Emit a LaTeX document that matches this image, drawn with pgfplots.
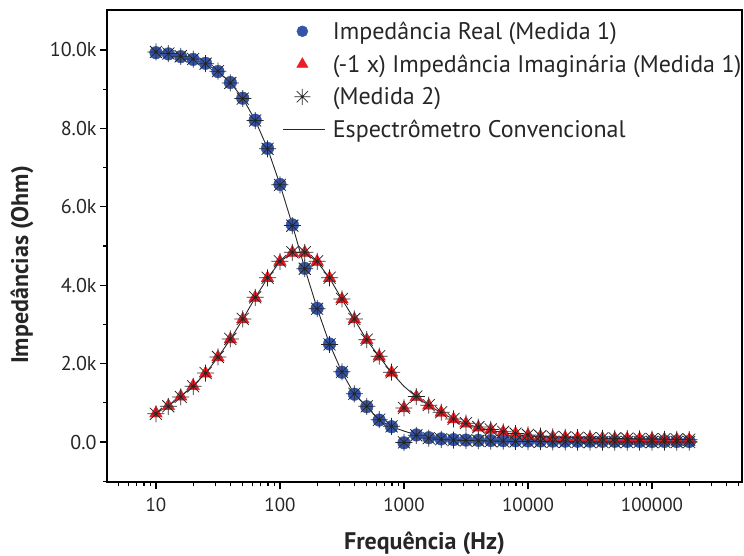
\documentclass[border=0pt]{standalone}
\usepackage{pgfplots}
\pgfplotsset{compat=1.18}
\usepackage{fontspec}
\setmainfont{PT Sans}
\definecolor{cblue}{RGB}{52,84,168}
\definecolor{cred}{RGB}{236,28,36}
\pgfdeclareplotmark{ast8}{%
  \pgfpathmoveto{\pgfpoint{-\pgfplotmarksize}{0pt}}\pgfpathlineto{\pgfpoint{\pgfplotmarksize}{0pt}}%
  \pgfpathmoveto{\pgfpoint{0pt}{-\pgfplotmarksize}}\pgfpathlineto{\pgfpoint{0pt}{\pgfplotmarksize}}%
  \pgfpathmoveto{\pgfpoint{-0.707\pgfplotmarksize}{-0.707\pgfplotmarksize}}\pgfpathlineto{\pgfpoint{0.707\pgfplotmarksize}{0.707\pgfplotmarksize}}%
  \pgfpathmoveto{\pgfpoint{-0.707\pgfplotmarksize}{0.707\pgfplotmarksize}}\pgfpathlineto{\pgfpoint{0.707\pgfplotmarksize}{-0.707\pgfplotmarksize}}%
  \pgfusepathqstroke}
\pgfplotsset{
  legcirc/.style={legend image code/.code={\path[draw=none,fill=none] (0pt,0pt) -- (42pt,0pt); \draw[##1, mark size=5.5pt] plot coordinates {(19pt,0pt)};}},
  legtri/.style={legend image code/.code={\path[draw=none,fill=none] (0pt,0pt) -- (42pt,0pt); \draw[##1, mark size=6.5pt] plot coordinates {(19pt,0pt)};}},
  legast/.style={legend image code/.code={\path[draw=none,fill=none] (0pt,0pt) -- (42pt,0pt); \draw[##1, mark size=8pt] plot coordinates {(19pt,0pt)};}},
  legline/.style={legend image code/.code={\draw[##1] (0pt,0pt) -- (42pt,0pt);}},
}
\begin{document}
\begin{tikzpicture}
\begin{axis}[at={(0,0)}, anchor=south west, scale only axis, width=635pt, height=472pt,
  xmode=log, xmin=4.03, xmax=5.32e5, ymin=-1020, ymax=11020,
  xtick={10,100,1000,10000,100000}, xticklabels={10,100,1000,10000,100000},
  minor xtick={5,6,7,8,9,20,30,40,50,60,70,80,90,200,300,400,500,600,700,800,900,2000,3000,4000,5000,6000,7000,8000,9000,20000,30000,40000,50000,60000,70000,80000,90000,200000,300000,400000,500000},
  ytick={0,2000,4000,6000,8000,10000}, yticklabels={0.0,2.0k,4.0k,6.0k,8.0k,10.0k},
  scaled y ticks=false, scaled x ticks=false,
  minor ytick={-1000,1000,3000,5000,7000,9000},
  tick pos=left, tick align=outside, major tick length=7pt, minor tick length=4pt,
  axis line style={line width=1.4pt},
  every tick/.style={black, line width=1.2pt},
  /pgf/number format/assume math mode=true,
  tick label style={font=\fontsize{19}{22}\selectfont, color=black!85},
  yticklabel style={font=\fontsize{20}{22}\selectfont},
  xticklabel style={yshift=-5pt},
  xlabel={\textbf{Frequência (Hz)}}, ylabel={\textbf{Impedâncias (Ohm)}},
  label style={font=\fontsize{24}{28}\selectfont, color=black!85},
  xlabel style={at={(axis description cs:0.5,-0.129)}, anchor=center},
  ylabel style={at={(axis description cs:-0.134,0.46)}, anchor=center},
  legend style={at={(0.272,0.984)}, anchor=north west, draw=none, fill=none,
    font=\fontsize{24}{28}\selectfont, row sep=9.8pt, text=black!85,
    cells={anchor=west},
    /tikz/every odd column/.append style={column sep=5pt}},
  legend cell align=left,
]
\addplot[only marks, mark=*, mark size=6.3pt, color=cblue, mark options={fill=cblue, draw=cblue}, legcirc]
coordinates {(10,9930) (12.59,9900) (15.85,9830) (19.95,9760) (25.12,9660) (31.62,9450) (39.81,9170) (50.12,8770) (63.10,8210) (79.43,7490) (100,6570) (125.9,5540) (158.5,4430) (199.5,3410) (251.2,2500) (316.2,1780) (398.1,1220) (501.2,900) (631.0,560) (794.3,390) (1000,-20) (1259,180) (1585,110) (1995,80) (2512,60) (3162,50) (3981,42) (5012,38) (6310,34) (7943,30) (10000,28) (12589,26) (15849,24) (19953,22) (25119,20) (31623,20) (39811,18) (50119,18) (63096,16) (79433,16) (100000,15) (125893,15) (158489,14) (199526,14)};
\addlegendentry{Impedância Real (Medida 1)}
\addplot[only marks, mark=triangle*, mark size=7.3pt, color=cred, mark options={fill=cred, draw=cred}, legtri]
coordinates {(10,730) (12.59,920) (15.85,1160) (19.95,1430) (25.12,1750) (31.62,2160) (39.81,2620) (50.12,3130) (63.10,3680) (79.43,4180) (100,4600) (125.9,4830) (158.5,4830) (199.5,4600) (251.2,4180) (316.2,3640) (398.1,3130) (501.2,2600) (631.0,2180) (794.3,1770) (1000,860) (1259,1150) (1585,930) (1995,750) (2512,580) (3162,470) (3981,370) (5012,310) (6310,250) (7943,210) (10000,170) (12589,140) (15849,120) (19953,110) (25119,100) (31623,95) (39811,90) (50119,85) (63096,80) (79433,75) (100000,70) (125893,65) (158489,60) (199526,55)};
\addlegendentry{(-1 x) Impedância Imaginária (Medida 1)}
\addplot[only marks, mark=ast8, mark size=8.5pt, color=black!85, line width=0.75pt, legast]
coordinates {(10,9950) (12.59,9910) (15.85,9840) (19.95,9770) (25.12,9650) (31.62,9460) (39.81,9160) (50.12,8760) (63.10,8200) (79.43,7480) (100,6560) (125.9,5520) (158.5,4420) (199.5,3400) (251.2,2490) (316.2,1790) (398.1,1230) (501.2,910) (631.0,570) (794.3,400) (1000,-10) (1259,170) (1585,100) (1995,70) (2512,50) (3162,40) (3981,30) (5012,25) (6310,20) (7943,15) (10000,10) (12589,10) (15849,5) (19953,5) (25119,0) (31623,0) (39811,0) (50119,0) (63096,0) (79433,0) (100000,0) (125893,0) (158489,0) (199526,0)};
\addlegendentry{(Medida 2)}
\addplot[only marks, mark=ast8, mark size=8.5pt, color=black!85, line width=0.75pt, forget plot]
coordinates {(10,720) (12.59,910) (15.85,1150) (19.95,1420) (25.12,1760) (31.62,2170) (39.81,2630) (50.12,3140) (63.10,3690) (79.43,4190) (100,4610) (125.9,4840) (158.5,4840) (199.5,4610) (251.2,4190) (316.2,3650) (398.1,3140) (501.2,2610) (631.0,2190) (794.3,1780) (1000,870) (1259,1160) (1585,940) (1995,760) (2512,590) (3162,480) (3981,380) (5012,320) (6310,260) (7943,215) (10000,180) (12589,150) (15849,130) (19953,120) (25119,110) (31623,100) (39811,95) (50119,90) (63096,85) (79433,80) (100000,75) (125893,70) (158489,65) (199526,60)};
\addplot[black!85, line width=0.9pt, no marks, legline]
coordinates {(10,9930) (12.59,9900) (15.85,9830) (19.95,9760) (25.12,9660) (31.62,9450) (39.81,9170) (50.12,8770) (63.10,8210) (79.43,7490) (100,6570) (125.9,5540) (158.5,4430) (199.5,3410) (251.2,2500) (316.2,1780) (398.1,1220) (501.2,900) (631.0,560) (794.3,390) (1000,280) (1259,180) (1585,110) (1995,80) (2512,60) (3162,45) (3981,35) (5012,28) (6310,22) (7943,18) (10000,14) (12589,12) (15849,10) (19953,8) (25119,6) (31623,5) (39811,4) (50119,3) (63096,2) (79433,2) (100000,1) (125893,1) (158489,0) (230000,0)};
\addlegendentry{Espectrômetro Convencional}
\addplot[black!85, line width=0.9pt, no marks, forget plot]
coordinates {(10,730) (12.59,920) (15.85,1160) (19.95,1430) (25.12,1750) (31.62,2160) (39.81,2620) (50.12,3130) (63.10,3680) (79.43,4180) (100,4600) (125.9,4830) (158.5,4830) (199.5,4600) (251.2,4180) (316.2,3640) (398.1,3130) (501.2,2600) (631.0,2180) (794.3,1770) (1000,1420) (1259,1150) (1585,930) (1995,750) (2512,580) (3162,470) (3981,370) (5012,300) (6310,240) (7943,190) (10000,150) (12589,120) (15849,95) (19953,75) (25119,60) (31623,48) (39811,38) (50119,30) (63096,24) (79433,19) (100000,15) (125893,12) (158489,10) (230000,7)};
\end{axis}
\pgfresetboundingbox
\path[use as bounding box] (-107pt,-73pt) rectangle (637pt,482pt);
\end{tikzpicture}
\end{document}
